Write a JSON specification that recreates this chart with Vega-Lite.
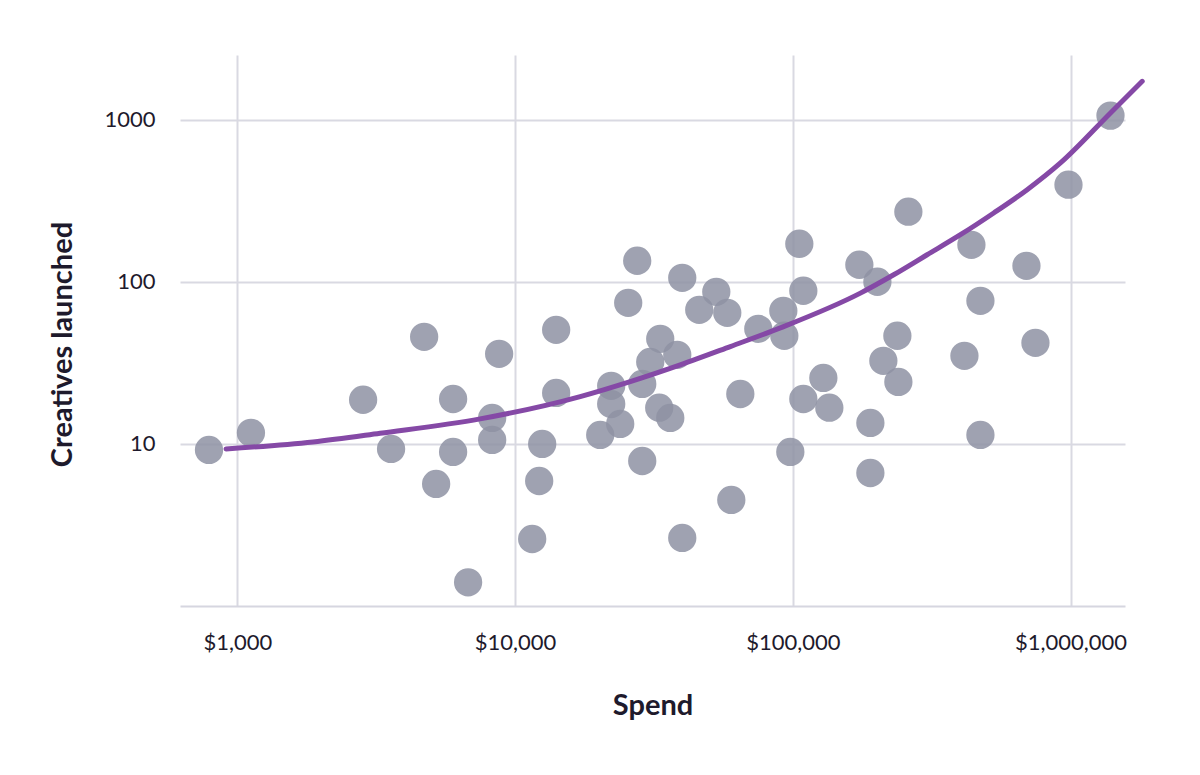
{
  "$schema": "https://vega.github.io/schema/vega-lite/v6.json",
  "width": 945,
  "height": 551,
  "autosize": {"type": "none"},
  "padding": {"left": 180, "top": 55, "right": 75, "bottom": 169},
  "background": "white",
  "datasets": {
    "accounts": [
      {"spend": 791, "creatives": 9.17},
      {"spend": 1120, "creatives": 11.7},
      {"spend": 2838, "creatives": 18.7},
      {"spend": 3578, "creatives": 9.3},
      {"spend": 4707, "creatives": 45.7},
      {"spend": 5199, "creatives": 5.66},
      {"spend": 5984, "creatives": 18.9},
      {"spend": 5984, "creatives": 8.91},
      {"spend": 6776, "creatives": 1.4},
      {"spend": 8272, "creatives": 14.45},
      {"spend": 8272, "creatives": 10.57},
      {"spend": 8765, "creatives": 35.9},
      {"spend": 11526, "creatives": 2.59},
      {"spend": 12215, "creatives": 5.9},
      {"spend": 12523, "creatives": 9.99},
      {"spend": 14061, "creatives": 50.5},
      {"spend": 14061, "creatives": 20.6},
      {"spend": 20260, "creatives": 11.35},
      {"spend": 22190, "creatives": 22.8},
      {"spend": 22190, "creatives": 17.6},
      {"spend": 23910, "creatives": 13.27},
      {"spend": 25550, "creatives": 74.1},
      {"spend": 27530, "creatives": 134.6},
      {"spend": 28700, "creatives": 23.4},
      {"spend": 28700, "creatives": 7.84},
      {"spend": 30670, "creatives": 32.0},
      {"spend": 33040, "creatives": 16.7},
      {"spend": 33320, "creatives": 44.4},
      {"spend": 36210, "creatives": 14.45},
      {"spend": 38370, "creatives": 35.4},
      {"spend": 39990, "creatives": 2.63},
      {"spend": 39990, "creatives": 105.7},
      {"spend": 46040, "creatives": 67.1},
      {"spend": 53030, "creatives": 86.6},
      {"spend": 58080, "creatives": 64.3},
      {"spend": 60050, "creatives": 4.51},
      {"spend": 64710, "creatives": 20.3},
      {"spend": 75110, "creatives": 51.2},
      {"spend": 92430, "creatives": 66.1},
      {"spend": 93200, "creatives": 46.4},
      {"spend": 97950, "creatives": 8.91},
      {"spend": 105540, "creatives": 171.4},
      {"spend": 109100, "creatives": 87.9},
      {"spend": 109100, "creatives": 18.9},
      {"spend": 128800, "creatives": 25.5},
      {"spend": 135350, "creatives": 16.7},
      {"spend": 173600, "creatives": 127.2},
      {"spend": 190200, "creatives": 13.46},
      {"spend": 190200, "creatives": 6.61},
      {"spend": 201600, "creatives": 99.9},
      {"spend": 211800, "creatives": 32.5},
      {"spend": 237900, "creatives": 46.4},
      {"spend": 239900, "creatives": 24.1},
      {"spend": 260600, "creatives": 270.1},
      {"spend": 414800, "creatives": 34.9},
      {"spend": 439500, "creatives": 168.9},
      {"spend": 473600, "creatives": 76.2},
      {"spend": 473600, "creatives": 11.35},
      {"spend": 693600, "creatives": 125.3},
      {"spend": 747300, "creatives": 42.0},
      {"spend": 982700, "creatives": 396.3},
      {"spend": 1392000, "creatives": 1057}
    ],
    "trend": [
      {"spend": 911, "creatives": 9.3},
      {"spend": 1874, "creatives": 10.28},
      {"spend": 3266, "creatives": 11.63},
      {"spend": 7487, "creatives": 14.25},
      {"spend": 17160, "creatives": 19.56},
      {"spend": 25980, "creatives": 24.2},
      {"spend": 39330, "creatives": 30.7},
      {"spend": 59550, "creatives": 39.8},
      {"spend": 90160, "creatives": 51.9},
      {"spend": 175100, "creatives": 85.0},
      {"spend": 230700, "creatives": 110.3},
      {"spend": 304400, "creatives": 146.6},
      {"spend": 401300, "creatives": 194.8},
      {"spend": 528800, "creatives": 265.2},
      {"spend": 697800, "creatives": 369.2},
      {"spend": 919400, "creatives": 539.7},
      {"spend": 1392000, "creatives": 1098},
      {"spend": 1811000, "creatives": 1721}
    ]
  },
  "layer": [
    {
      "data": {"name": "accounts"},
      "mark": {"type": "circle", "size": 800, "color": "#8e92a3", "opacity": 0.85},
      "encoding": {
        "x": {
          "field": "spend",
          "type": "quantitative",
          "title": "Spend",
          "scale": {"type": "log", "domain": [622, 1570000], "nice": false},
          "axis": {
            "values": [1000, 10000, 100000, 1000000],
            "format": "$,.0f",
            "grid": true,
            "ticks": false,
            "domain": true,
            "domainColor": "#d6d6e0",
            "domainWidth": 2,
            "labelPadding": 26,
            "titlePadding": 38
          }
        },
        "y": {
          "field": "creatives",
          "type": "quantitative",
          "title": "Creatives launched",
          "scale": {"type": "log", "domain": [1, 2500], "nice": false},
          "axis": {
            "values": [10, 100, 1000],
            "format": "d",
            "grid": true,
            "ticks": false,
            "domain": false,
            "labelPadding": 25,
            "titlePadding": 26,
            "titleY": 289
          }
        }
      }
    },
    {
      "data": {"name": "trend"},
      "mark": {"type": "line", "color": "#8549a6", "strokeWidth": 5, "interpolate": "monotone", "strokeCap": "round"},
      "encoding": {
        "x": {"field": "spend", "type": "quantitative"},
        "y": {"field": "creatives", "type": "quantitative"}
      }
    }
  ],
  "config": {
    "font": "Lato",
    "view": {"stroke": null},
    "axis": {
      "gridColor": "#d9d9e2",
      "gridWidth": 2,
      "labelFont": "Lato",
      "labelFontSize": 22,
      "labelColor": "#1e1a2c",
      "titleFont": "Lato",
      "titleFontSize": 29,
      "titleFontWeight": "bold",
      "titleColor": "#1e1a2c"
    }
  }
}
